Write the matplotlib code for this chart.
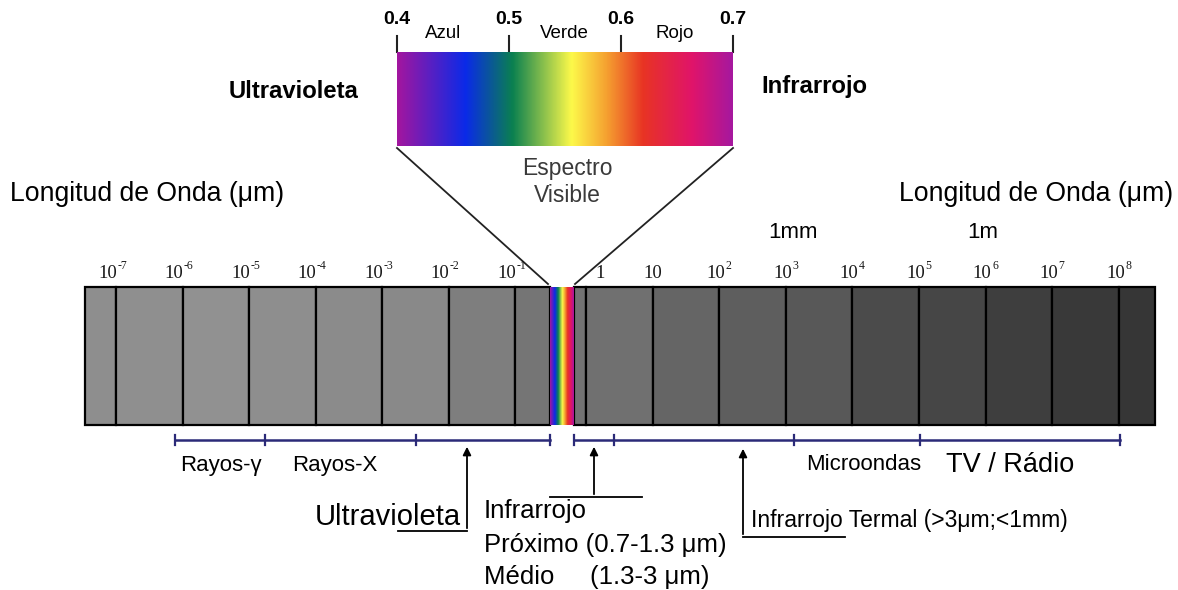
import numpy as np
import matplotlib.pyplot as plt
from matplotlib.patches import Rectangle
from matplotlib.colors import LinearSegmentedColormap

plt.rcParams['font.family'] = ['Liberation Sans', 'DejaVu Sans']

# --- data ---
left_exps = [-7, -6, -5, -4, -3, -2, -1]
right_exps = [0, 1, 2, 3, 4, 5, 6, 7, 8]
visible_ticks = [0.4, 0.5, 0.6, 0.7]
visible_names = ['Azul', 'Verde', 'Rojo']
visible_name_pos = [0.441, 0.549, 0.648]
# colour stops across the visible band (wavelength um, colour)
spec_wl = [0.40, 0.461, 0.503, 0.556, 0.5875, 0.62, 0.664, 0.70]
spec_col = ['#a3169f', '#0a2ae8', '#0a8050', '#fdf94a', '#f5a030', '#e83424', '#e0146a', '#a6189f']
left_grays = ['#8e8e8e', '#8f8f8f', '#919191', '#8e8e8e', '#8b8b8b', '#898989', '#7e7e7e', '#757575']
right_grays = ['#737373', '#707070', '#656565', '#5e5e5e', '#585858', '#4b4b4b', '#464646', '#3e3e3e', '#393939', '#363636']
bands_left = [175, 265, 416, 550]
bands_right = [574, 614, 794, 920, 1120]

stops = [min(1.0, max(0.0, round((w - 0.4) / 0.3, 4))) for w in spec_wl]
spec_cmap = LinearSegmentedColormap.from_list('vis', list(zip(stops, spec_col)))


def xl(e):
    return 116 + 66.5 * (e + 7)


def xr(e):
    return 586 + 66.6 * e


fig = plt.figure(figsize=(11.78, 5.9), dpi=100)
ax = fig.add_axes([0, 0, 1, 1])
ax.set_xlim(0, 1178)
ax.set_ylim(590, 0)
ax.axis('off')

top, bot = 287, 425
# main bar cells
edges_l = [85] + [xl(e) for e in left_exps] + [550]
for i in range(len(edges_l) - 1):
    ax.add_patch(Rectangle((edges_l[i], top), edges_l[i + 1] - edges_l[i], bot - top,
                           facecolor=left_grays[i], edgecolor='black', lw=1.6))
edges_r = [574] + [xr(e) for e in right_exps] + [1155]
for i in range(len(edges_r) - 1):
    ax.add_patch(Rectangle((edges_r[i], top), edges_r[i + 1] - edges_r[i], bot - top,
                           facecolor=right_grays[i], edgecolor='black', lw=1.6))
grad = np.linspace(0, 1, 256).reshape(1, -1)
ax.imshow(grad, cmap=spec_cmap, extent=(550, 574, bot, top), aspect='auto', zorder=3)

# exponent labels (serif, small raised exponent)
serif = 'Liberation Serif'


def pow_label(x, e):
    ax.text(x, 274, '10', ha='right', va='center', fontsize=13.5, family=serif, color='#1a1a1a')
    ax.text(x + 0.5, 266, str(e), ha='left', va='center', fontsize=8.5, family=serif, color='#1a1a1a')


for e in left_exps:
    pow_label(xl(e) + 1, e)
for e in right_exps:
    if e == 0:
        ax.text(xr(e) + 14, 274, '1', ha='center', va='center', fontsize=13.5, family=serif,
                color='#1a1a1a')
    elif e == 1:
        ax.text(xr(e), 274, '10', ha='center', va='center', fontsize=13.5, family=serif,
                color='#1a1a1a')
    else:
        pow_label(xr(e) + 6, e)

ax.text(793, 233, '1mm', ha='center', va='center', fontsize=16)
ax.text(983, 233, '1m', ha='center', va='center', fontsize=16)
ax.text(10, 194, 'Longitud de Onda (μm)', ha='left', va='center', fontsize=19.2)
ax.text(1173, 194, 'Longitud de Onda (μm)', ha='right', va='center', fontsize=19.2)

# visible spectrum zoom
sx0, sx1, sy0, sy1 = 397, 733, 52, 146


def xs(w):
    return sx0 + (w - 0.4) / 0.3 * (sx1 - sx0)


ax.imshow(grad, cmap=spec_cmap, extent=(sx0, sx1, sy1, sy0), aspect='auto', zorder=3)
for w in visible_ticks:
    ax.plot([xs(w), xs(w)], [36, sy0], color='#222222', lw=1.5)
    ax.text(xs(w), 20, '%.1f' % w, ha='center', va='center', fontsize=14, fontweight='bold')
for name, w in zip(visible_names, visible_name_pos):
    ax.text(xs(w), 33, name, ha='center', va='center', fontsize=13.5)
ax.text(294, 92, 'Ultravioleta', ha='center', va='center', fontsize=17.2, fontweight='bold')
ax.text(814, 87, 'Infrarrojo', ha='center', va='center', fontsize=17.2, fontweight='bold')
ax.text(567, 168, 'Espectro', ha='center', va='center', fontsize=16.5, color='#3a3a3a')
ax.text(567, 196, 'Visible', ha='center', va='center', fontsize=16.5, color='#3a3a3a')
ax.plot([sx0, 548], [sy1 + 2, 284], color='#222222', lw=1.3)
ax.plot([sx1, 575], [sy1 + 2, 284], color='#222222', lw=1.3)

# band brackets
navy = '#2b2a78'
for bands in (bands_left, bands_right):
    ax.plot([bands[0], bands[-1]], [440, 440], color=navy, lw=1.8)
    for b in bands:
        ax.plot([b, b], [435, 445], color=navy, lw=1.6)

ax.text(180, 465, 'Rayos-γ', ha='left', va='center', fontsize=16)
ax.text(292, 465, 'Rayos-X', ha='left', va='center', fontsize=16)
ax.text(806, 465, 'Microondas', ha='left', va='center', fontsize=16)
ax.text(946, 465, 'TV / Rádio', ha='left', va='center', fontsize=19.5)

# arrows
ap = dict(arrowstyle='-|>', color='black', lw=1.3, mutation_scale=12)
ax.annotate('', xy=(467, 444), xytext=(467, 531), arrowprops=ap)
ax.plot([398, 467], [531, 531], color='black', lw=1.3)
ax.text(315, 517, 'Ultravioleta', ha='left', va='center', fontsize=21)

ax.annotate('', xy=(594, 444), xytext=(594, 497), arrowprops=ap)
ax.plot([550, 642], [497, 497], color='black', lw=1.3)
ax.text(484, 511, 'Infrarrojo', ha='left', va='center', fontsize=18.5)
ax.text(484, 545, 'Próximo (0.7-1.3 μm)', ha='left', va='center', fontsize=18.5)
ax.text(484, 577, 'Médio     (1.3-3 μm)', ha='left', va='center', fontsize=18.5)

ax.annotate('', xy=(743, 446), xytext=(743, 537), arrowprops=ap)
ax.plot([743, 845], [537, 537], color='black', lw=1.3)
ax.text(751, 521, 'Infrarrojo Termal (>3μm;<1mm)', ha='left', va='center', fontsize=16.5)

fig.savefig('out.png', dpi=100)
